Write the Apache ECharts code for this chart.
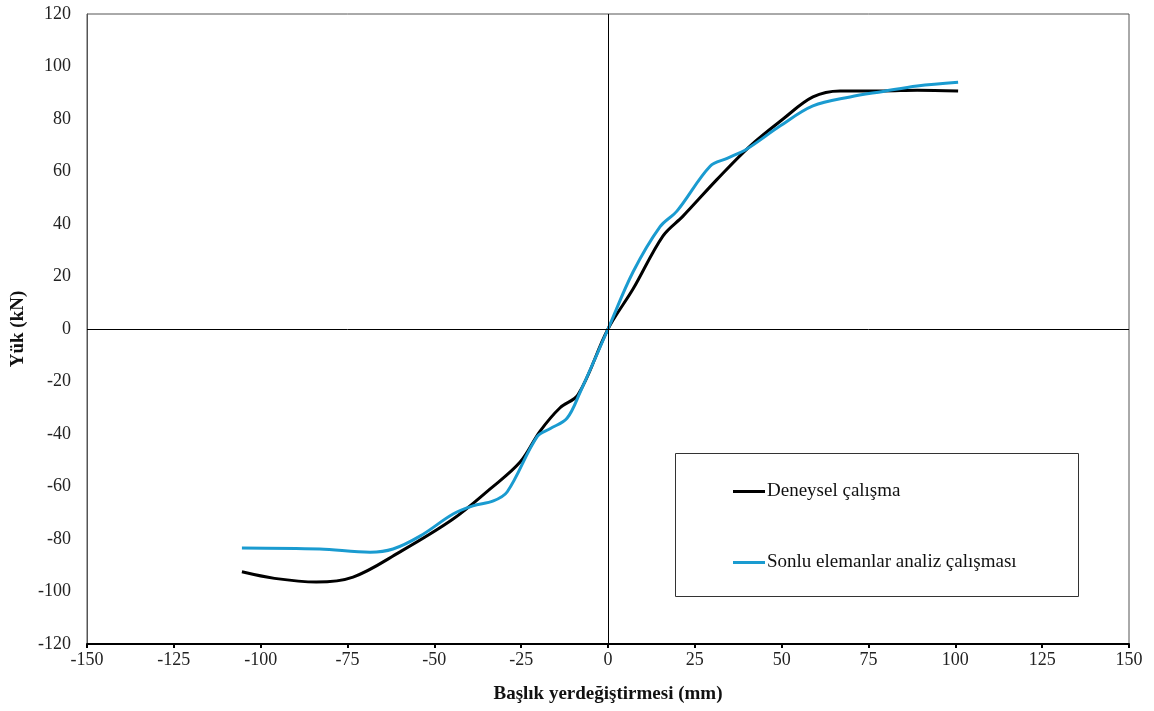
<!DOCTYPE html>
<html><head><meta charset="utf-8">
<script src="https://cdn.jsdelivr.net/npm/echarts@6/dist/echarts.min.js"></script>
<style>html,body{margin:0;padding:0;background:#fff}#c{width:1154px;height:711px}</style>
</head><body><div id="c"></div>
<script>
const seriesNames = ['Deneysel çalışma', 'Sonlu elemanlar analiz çalışması'];
const deneyselX = [-105.4, -96, -84, -73.4, -60, -44.6, -34, -25.3, -19.6, -13.8, -8.6, 0, 7.2, 15.8, 21.6, 31.4, 40.9, 50.4, 59, 66.8, 79.2, 89, 100.8];
const deneyselY = [-92.5, -95, -96.4, -94.5, -85, -72.4, -61, -50.7, -39, -30, -25, 0, 15.2, 35.4, 43, 57, 69.7, 80, 88.4, 90.7, 90.7, 91, 90.7];
const sonluX = [-105.4, -83, -68.5, -61.9, -54, -44.6, -38.9, -33, -29, -20.4, -16.7, -11.8, -8, 0, 7.2, 15, 19.9, 29.4, 34.3, 40, 49.5, 59, 69.7, 79.2, 89, 100.8];
const sonluY = [-83.4, -83.8, -85, -83.8, -78.8, -70.5, -67.4, -65.5, -62, -41, -38, -34, -24, 0, 21.7, 39, 45, 62, 65, 68.6, 77.3, 85, 88.4, 90.5, 92.6, 94];
const xTicks = {min: -150, max: 150, interval: 25};
const yTicks = {min: -120, max: 120, interval: 20};

const font = 'Liberation Serif';
const zip = (xs, ys) => xs.map((x, i) => [x, ys[i]]);
const chart = echarts.init(document.getElementById('c'), null, {renderer: 'canvas'});
chart.setOption({
  animation: false,
  backgroundColor: '#fff',
  grid: {left: 87, right: 25, top: 14, bottom: 67, show: true, borderColor: '#555', borderWidth: 1, containLabel: false, outerBoundsMode: 'none'},
  xAxis: {
    type: 'value', min: xTicks.min, max: xTicks.max, interval: xTicks.interval,
    name: 'Başlık yerdeğiştirmesi (mm)', nameLocation: 'middle', nameGap: 41,
    nameTextStyle: {fontFamily: font, fontWeight: 'bold', fontSize: 19, color: '#111'},
    axisLine: {onZero: false, lineStyle: {color: '#000', width: 2}},
    axisTick: {show: true, inside: false, length: 4, lineStyle: {color: '#000', width: 2}},
    axisLabel: {fontFamily: font, fontSize: 18, color: '#222', margin: 7},
    splitLine: {show: false}
  },
  yAxis: {
    type: 'value', min: yTicks.min, max: yTicks.max, interval: yTicks.interval,
    name: 'Yük (kN)', nameLocation: 'middle', nameGap: 59, nameRotate: 90,
    nameTextStyle: {fontFamily: font, fontWeight: 'bold', fontSize: 19, color: '#111'},
    axisLine: {onZero: false, lineStyle: {color: '#555', width: 1}},
    axisTick: {show: false},
    axisLabel: {fontFamily: font, fontSize: 18, color: '#222', margin: 16},
    splitLine: {show: false}
  },
  legend: {
    orient: 'vertical', left: 733, top: 482, itemGap: 52, padding: 0,
    itemWidth: 32, itemHeight: 3, icon: 'rect',
    textStyle: {fontFamily: font, fontSize: 19, color: '#111', padding: [0, 0, 0, -3]},
    data: seriesNames
  },
  graphic: [{
    type: 'rect', left: 675, top: 453, z: 0,
    shape: {width: 403, height: 143},
    style: {fill: '#fff', stroke: '#333', lineWidth: 1}
  }],
  series: [
    {
      name: seriesNames[0], type: 'line', data: zip(deneyselX, deneyselY), smooth: 0.35,
      showSymbol: false, symbol: 'none', lineStyle: {color: '#000', width: 3}, itemStyle: {color: '#000'},
      markLine: {silent: true, symbol: 'none', label: {show: false},
        lineStyle: {color: '#000', width: 1, type: 'solid'},
        data: [{xAxis: 0}, {yAxis: 0}]}
    },
    {
      name: seriesNames[1], type: 'line', data: zip(sonluX, sonluY), smooth: 0.35,
      showSymbol: false, symbol: 'none', lineStyle: {color: '#1a9bd0', width: 3}, itemStyle: {color: '#1a9bd0'}
    }
  ]
});
</script></body></html>
